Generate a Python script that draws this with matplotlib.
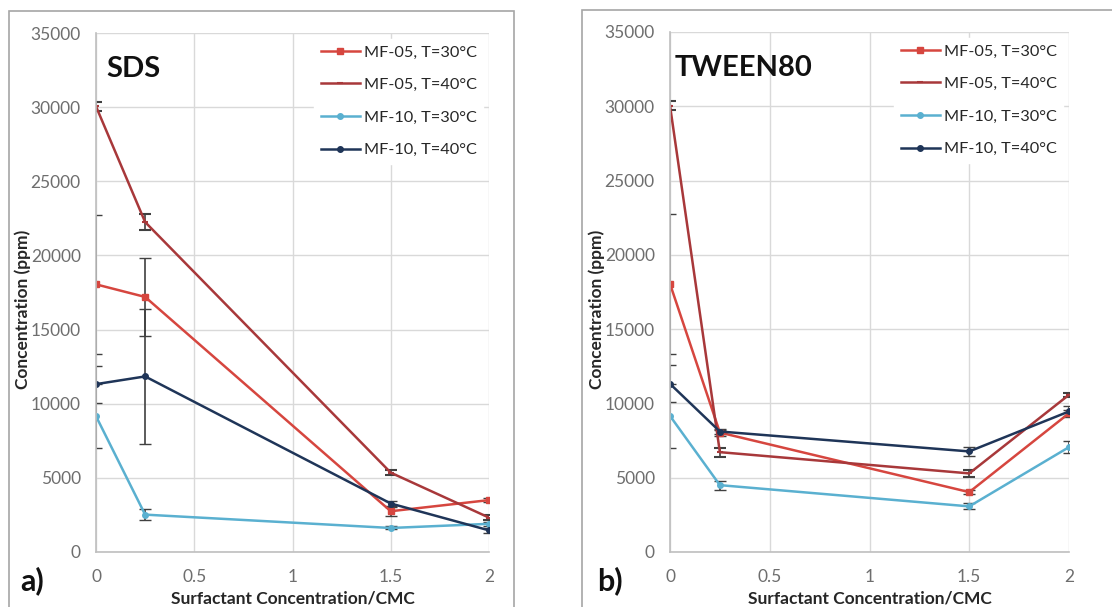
import matplotlib
matplotlib.use("Agg")
import matplotlib.pyplot as plt
from matplotlib.patches import Rectangle
from matplotlib.lines import Line2D

plt.rcParams['font.family'] = ['Lato', 'DejaVu Sans']

x = [0, 0.25, 1.5, 2]
labels = ["MF-05, T=30°C", "MF-05, T=40°C", "MF-10, T=30°C", "MF-10, T=40°C"]
colors = ["#D6463F", "#A8383A", "#5AB0D0", "#1F3558"]
markers = ["s", "_", "o", "o"]

# Panel a) SDS
sds_mf05_30 = [18050, 17200, 2750, 3500]
sds_mf05_40 = [30050, 22250, 5350, 2320]
sds_mf10_30 = [9160, 2520, 1620, 1900]
sds_mf10_40 = [11320, 11840, 3270, 1460]
sds_err_mf05_30 = [4700, 2650, 300, 150]
sds_err_mf05_40 = [300, 520, 150, 150]
sds_err_mf10_30 = [2140, 380, 100, 150]
sds_err_mf10_40 = [1240, 4570, 200, 150]

# Panel b) TWEEN80
tw_mf05_30 = [18050, 8040, 4030, 9340]
tw_mf05_40 = [30050, 6720, 5290, 10580]
tw_mf10_30 = [9160, 4500, 3070, 7060]
tw_mf10_40 = [11320, 8110, 6770, 9460]
tw_err_mf05_30 = [4700, 200, 150, 200]
tw_err_mf05_40 = [300, 300, 250, 150]
tw_err_mf10_30 = [2140, 300, 200, 400]
tw_err_mf10_40 = [1240, 200, 300, 350]

yticks = [0, 5000, 10000, 15000, 20000, 25000, 30000, 35000]
xticks = [0, 0.5, 1, 1.5, 2]
xticklabels = ["0", "0.5", "1", "1.5", "2"]

W, H = 1112, 607
fig = plt.figure(figsize=(W / 100, H / 100), dpi=100)

# panel frames
fig.patches.append(Rectangle((9 / W, -0.05), (514 - 9) / W, 1.05 - 11 / H,
                             transform=fig.transFigure, fill=False,
                             edgecolor="#A6A6A6", lw=1.2))
fig.patches.append(Rectangle((582 / W, -0.05), 0.6, 1.05 - 10 / H,
                             transform=fig.transFigure, fill=False,
                             edgecolor="#A6A6A6", lw=1.2))


def make_panel(rect, series, errs, title, title_px, letter, letter_x, ylab_x):
    l, t, r, b = rect
    ax = fig.add_axes([l / W, 1 - b / H, (r - l) / W, (b - t) / H])
    handles = []
    for ys, es, c, m, lab in zip(series, errs, colors, markers, labels):
        ax.errorbar(x, ys, yerr=es, color=c, marker=m, markersize=4,
                    mew=1.5 if m == "_" else 1, lw=1.8,
                    ecolor="#404040", elinewidth=1.2, capsize=4, capthick=1.2,
                    clip_on=True)
        handles.append(Line2D([], [], color=c, marker=m, markersize=4,
                              mew=1.5 if m == "_" else 1, lw=1.8, label=lab))
    ax.set_xlim(0, 2)
    ax.set_ylim(0, 35000)
    ax.set_xticks(xticks)
    ax.set_xticklabels(xticklabels)
    ax.set_yticks(yticks)
    ax.grid(True, color="#D9D9D9", lw=1)
    ax.set_axisbelow(True)
    for s in ["top", "right"]:
        ax.spines[s].set_visible(False)
    for s in ["left", "bottom"]:
        ax.spines[s].set_color("#BFBFBF")
        ax.spines[s].set_linewidth(1.2)
    ax.tick_params(axis="both", length=0, labelsize=12.5, colors="#6E6E6E")
    ax.tick_params(axis="y", pad=11)
    ax.tick_params(axis="x", pad=12)
    ax.set_ylabel("Concentration (ppm)", fontsize=12.5, fontweight="bold",
                  color="#262626")
    ax.yaxis.set_label_coords((ylab_x - l) / (r - l), (b - 309) / (b - t))
    ax.set_xlabel("Surfactant Concentration/CMC", fontsize=12.5,
                  fontweight="bold", color="#262626", labelpad=4)
    ax.text(title_px / (r - l), 0.955, title, transform=ax.transAxes,
            fontsize=21, fontweight="bold", va="top", ha="left",
            color="#111111")
    leg = ax.legend(handles=handles, loc="upper right", frameon=True,
                    fontsize=11.7, handlelength=2.4, handletextpad=0.25,
                    labelspacing=1.12, borderaxespad=0.35, facecolor="white",
                    edgecolor="white", framealpha=1)
    for txt in leg.get_texts():
        txt.set_color("#262626")
    fig.text(letter_x / W, 1 - 581 / H, letter, fontsize=22,
             fontweight="bold", va="center", ha="left", color="#111111")
    return ax


make_panel((96, 33, 489, 552),
           [sds_mf05_30, sds_mf05_40, sds_mf10_30, sds_mf10_40],
           [sds_err_mf05_30, sds_err_mf05_40, sds_err_mf10_30, sds_err_mf10_40],
           "SDS", 10, "a)", 20, 31)
make_panel((670, 32, 1069, 552),
           [tw_mf05_30, tw_mf05_40, tw_mf10_30, tw_mf10_40],
           [tw_err_mf05_30, tw_err_mf05_40, tw_err_mf10_30, tw_err_mf10_40],
           "TWEEN80", 5, "b)", 597, 605)

fig.savefig("out.png", dpi=100)
